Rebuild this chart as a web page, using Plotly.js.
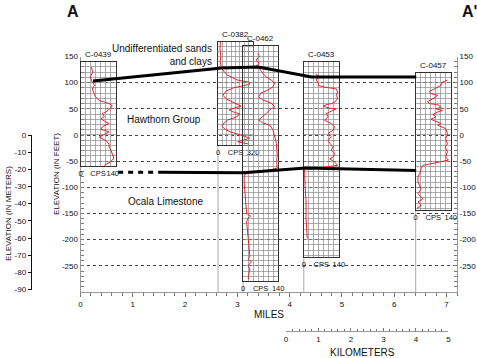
<!DOCTYPE html>
<html><head><meta charset="utf-8">
<script src="https://cdn.plot.ly/plotly-3.0.1.min.js"></script>
<style>html,body{margin:0;padding:0;background:#fff}#chart{width:477px;height:358px}</style>
</head><body><div id="chart"></div>
<script>
const FONT = '"Liberation Sans Narrow", "Arial Narrow", "Liberation Sans", Arial, sans-serif';

// ---- axis ticks ----
const mileTicks = [0,1,2,3,4,5,6,7];
const kmTicks = [0,1,2,3,4,5];
const feetTicks = [150,100,50,0,-50,-100,-150,-200,-250];
const meterTicks = [0,-10,-20,-30,-40,-50,-60,-70,-80,-90];

// ---- wells ----
const wellNames = ['C-0439','C-0382','C-0462','C-0453','C-0457'];
const wellMiles = [0.0, 2.63, 3.11, 4.27, 6.41];
const wellTopFt = [139, 178, 170, 139, 118];
const wellBottomFt = [-60, -20, -279, -233, -143];
const wellCpsMax = [140, 320, 140, 140, 140];
const wellGridCps = [20, 40, 20, 20, 20];

// ---- gamma logs (elevation ft, counts per second) ----
const elev0439 = [130,120,111,101,95,88,82,73,66,60,56,51,44,41,35,31,25,22,16,11,6,0,-4,-9,-13,-18,-23,-27,-32,-39,-44,-48,-53,-58];
const cps0439  = [43,49,39,47,56,47,52,60,75,114,127,120,101,88,95,82,101,114,88,82,114,88,75,95,107,114,114,120,124,127,133,127,114,95];
const elev0382 = [178,165,150,140,128,115,105,101,97,93,90,84,76,69,63,59,55,52,48,44,40,34,29,23,17,11,6,2,-2,-6,-10,-13,-17];
const cps0382  = [22,18,25,20,30,80,175,285,290,210,140,75,45,75,130,180,210,155,100,140,200,165,90,55,35,65,110,175,240,290,230,180,275];
const elev0462 = [156,150,143,137,130,127,118,111,105,99,92,86,80,73,67,61,54,48,41,35,29,23,19,10,-3,-16,-38,-52,-63,-68,-73,-76,-90,-105,-130,-150,-155,-160,-166,-185,-205,-225,-231,-238,-242,-249,-258,-268,-276];
const cps0462  = [58,65,51,65,48,65,78,92,112,126,119,99,71,62,78,112,126,106,92,78,62,78,106,119,126,133,136,134,136,100,20,5,4,7,11,14,30,18,14,18,21,24,27,21,34,21,27,21,21];
const elev0453 = [117,111,105,98,95,92,90,88,82,76,70,63,60,58,55,51,50,45,41,35,28,22,15,9,3,-3,-10,-16,-22,-29,-35,-42,-46,-52,-58,-62,-64,-96,-128,-160,-185,-198];
const cps0453  = [50,57,50,59,57,77,104,130,135,130,135,124,110,90,77,104,130,110,90,97,83,110,124,117,97,110,97,104,117,110,124,117,104,124,135,70,3,5,9,9,14,14];
const elev0457 = [105,101,95,88,83,79,76,69,64,60,58,53,50,47,44,39,35,30,27,22,19,15,12,2,-7,-17,-23,-32,-42,-48,-51,-55,-58,-64,-74,-80,-90,-103,-112,-122,-128,-135,-140];
const cps0457  = [127,107,101,75,55,61,88,68,48,55,88,101,81,107,88,68,81,61,75,101,88,107,120,127,120,127,118,127,120,131,101,55,29,22,16,9,9,22,9,29,9,22,5];

// ---- formation boundaries ----
const hawthornTopMiles = [0.24, 2.70, 3.40, 4.42, 6.42];
const hawthornTopFt    = [103, 128, 130, 111, 111];
const ocalaInferredMiles = [0.72, 1.52];
const ocalaInferredFt    = [-71, -71];
const ocalaTopMiles = [1.52, 3.11, 4.30, 6.42];
const ocalaTopFt    = [-71, -72, -63, -68];

// ---- unit labels ----
const unitNames = ['Undifferentiated sands<br>and clays', 'Hawthorn Group', 'Ocala Limestone'];
const unitMiles = [2.553, 1.60, 1.625];
const unitFt    = [153, 28.7, -128];

// ================= layout geometry =================
const W = 477, H = 358;
const plotL = 80.5, plotR = 457, plotT = 56.5, plotB = 292;
const mileRange = [0, 7.2];
const ftRange = [-300, 150];
const FT_PER_M = 3.28084, MI_PER_KM = 0.621371;
const kmStartMi = 3.93;
const logWidthMi = 0.67;
const cpsLabelFrac = [[0, 0.5, 0.92], [0, 0.5, 1], [0, 0.5, 1], [0, 0.5, 1], [0, 0.5, 1]];
const RED = '#e5262d';

const mi2px = mi => plotL + (mi - mileRange[0]) / (mileRange[1] - mileRange[0]) * (plotR - plotL);
const ft2py = ft => plotB - (ft - ftRange[0]) / (ftRange[1] - ftRange[0]) * (plotB - plotT);
const px = x => x / W;
const py = y => 1 - y / H;

const logsElev = [elev0439, elev0382, elev0462, elev0453, elev0457];
const logsCps  = [cps0439, cps0382, cps0462, cps0453, cps0457];

const tf = {family: FONT, size: 8, color: '#111'};

const layout = {
  width: W, height: H, autosize: false,
  margin: {l: 0, r: 0, t: 0, b: 0},
  paper_bgcolor: '#fff', plot_bgcolor: 'rgba(0,0,0,0)',
  showlegend: false,
  font: {family: FONT, color: '#111'},
  xaxis: {
    domain: [px(plotL), px(plotR)], range: mileRange, anchor: 'y',
    tickmode: 'array', tickvals: mileTicks, ticktext: mileTicks.map(String),
    ticks: 'outside', ticklen: 4, tickcolor: '#777', tickfont: tf, tickangle: 0,
    showline: true, linecolor: '#999', linewidth: 1,
    showgrid: false, zeroline: false, fixedrange: true,
    minor: {tickmode: 'linear', tick0: 0, dtick: 0.2, ticks: 'outside', ticklen: 3, tickcolor: '#777', showgrid: false}
  },
  yaxis: {
    domain: [py(plotB), py(plotT)], range: ftRange, anchor: 'x',
    tickmode: 'array', tickvals: feetTicks, ticktext: feetTicks.map(String),
    ticks: 'inside', ticklen: 3, tickcolor: '#777', tickfont: tf,
    showline: true, linecolor: '#999', linewidth: 1,
    showgrid: true, gridcolor: '#444', griddash: 'dot', gridwidth: 1,
    zeroline: false, fixedrange: true,
    minor: {tickmode: 'linear', tick0: 0, dtick: 10, ticks: 'inside', ticklen: 3, tickcolor: '#777', showgrid: false}
  },
  yaxis2: {
    overlaying: 'y', side: 'right', anchor: 'x', range: ftRange,
    tickmode: 'array', tickvals: feetTicks, ticktext: feetTicks.map(String),
    ticks: 'inside', ticklen: 3, tickcolor: '#777', tickfont: tf,
    showline: true, linecolor: '#999', linewidth: 1,
    showgrid: false, zeroline: false, fixedrange: true,
    minor: {tickmode: 'linear', tick0: 0, dtick: 10, ticks: 'inside', ticklen: 3, tickcolor: '#777', showgrid: false}
  },
  xaxis2: {
    anchor: 'free', position: py(331),
    domain: [px(mi2px(kmStartMi)), px(mi2px(kmStartMi + 5 * MI_PER_KM))], range: [0, 5],
    tickmode: 'array', tickvals: kmTicks, ticktext: kmTicks.map(String),
    ticks: 'inside', ticklen: 3, tickcolor: '#777', tickfont: tf, tickangle: 0,
    showline: true, linecolor: '#999', linewidth: 1,
    showgrid: false, zeroline: false, fixedrange: true,
    minor: {tickmode: 'linear', tick0: 0, dtick: 0.2, ticks: 'inside', ticklen: 2, tickcolor: '#777', showgrid: false}
  },
  yaxis3: {
    anchor: 'free', position: px(30.7), side: 'left',
    domain: [py(ft2py(-90 * FT_PER_M)), py(ft2py(0))], range: [-90, 0],
    tickmode: 'array', tickvals: meterTicks, ticktext: meterTicks.map(String),
    ticks: 'outside', ticklen: 3, tickcolor: '#111', tickfont: tf,
    showline: true, linecolor: '#111', linewidth: 1.5,
    showgrid: false, zeroline: false, fixedrange: true
  },
  shapes: [],
  annotations: []
};

const data = [
  {type: 'scatter', x: [], y: [], xaxis: 'x', yaxis: 'y2', hoverinfo: 'skip'},
  {type: 'scatter', x: [], y: [], xaxis: 'x2', yaxis: 'y3', hoverinfo: 'skip'}
];

// wells as small subplots
wellNames.forEach((name, i) => {
  const xa = 'xaxis' + (3 + i), ya = 'yaxis' + (4 + i);
  const xid = 'x' + (3 + i), yid = 'y' + (4 + i);
  const left = mi2px(wellMiles[i]), right = mi2px(wellMiles[i] + logWidthMi);
  const top = ft2py(wellTopFt[i]), bot = ft2py(wellBottomFt[i]);
  const m = wellCpsMax[i];
  layout[xa] = {
    domain: [px(left), px(right)], range: [0, m], anchor: yid,
    tickmode: 'array', tickvals: cpsLabelFrac[i].map(f => f * m), ticktext: ['0', 'CPS', String(m)],
    ticks: '', tickangle: 0, tickfont: {family: FONT, size: 7.5, color: '#111'},
    showgrid: false, zeroline: false, fixedrange: true,
    showline: true, mirror: true, linecolor: '#333', linewidth: 1,
    minor: {tickmode: 'linear', tick0: 0, dtick: wellGridCps[i], showgrid: true, gridcolor: '#8a8a8a', gridwidth: 0.7, ticks: ''}
  };
  layout[ya] = {
    domain: [py(bot), py(top)], range: [wellBottomFt[i], wellTopFt[i]], anchor: xid,
    tickmode: 'linear', tick0: 0, dtick: 10, ticks: '', showticklabels: false,
    showgrid: true, gridcolor: '#8a8a8a', gridwidth: 0.7, zeroline: false, fixedrange: true,
    showline: true, mirror: true, linecolor: '#333', linewidth: 1
  };
  data.push({
    type: 'scatter', mode: 'lines', x: logsCps[i], y: logsElev[i],
    xaxis: xid, yaxis: yid, line: {color: RED, width: 1}, hoverinfo: 'skip'
  });
  layout.annotations.push({
    xref: 'paper', yref: 'paper', x: px((left + right) / 2), y: py(top - 1),
    xanchor: 'center', yanchor: 'bottom', text: name, showarrow: false,
    font: {family: FONT, size: 8, color: '#111'}
  });
  if (i > 0) {
    layout.shapes.push({
      type: 'line', xref: 'x', yref: 'y', x0: wellMiles[i], x1: wellMiles[i],
      y0: wellBottomFt[i], y1: ftRange[0], line: {color: '#aaa', width: 1}, layer: 'below'
    });
  }
});

// formation boundaries
const pathOf = (xs, ys) => xs.map((x, k) => (k ? 'L' : 'M') + x + ',' + ys[k]).join(' ');
layout.shapes.push({type: 'path', xref: 'x', yref: 'y', path: pathOf(hawthornTopMiles, hawthornTopFt),
  line: {color: '#000', width: 3}, layer: 'above'});
layout.shapes.push({type: 'path', xref: 'x', yref: 'y', path: pathOf(ocalaTopMiles, ocalaTopFt),
  line: {color: '#000', width: 3}, layer: 'above'});
layout.shapes.push({type: 'path', xref: 'x', yref: 'y', path: pathOf(ocalaInferredMiles, ocalaInferredFt),
  line: {color: '#000', width: 3, dash: '5px,5px'}, layer: 'above'});

// unit labels (placed in paper space through the axis scales so that the label above 150 ft is kept)
unitNames.forEach((t, i) => {
  layout.annotations.push({
    xref: 'paper', yref: 'paper', x: px(mi2px(unitMiles[i])), y: py(ft2py(unitFt[i])), text: t, showarrow: false,
    xanchor: i === 0 ? 'right' : 'center', yanchor: 'middle', align: i === 0 ? 'right' : 'center',
    font: {family: FONT, size: 10, color: '#111'}
  });
});

// titles and section letters
const ann = (x, y, text, size, extra) => layout.annotations.push(Object.assign({
  xref: 'paper', yref: 'paper', x: px(x), y: py(y), text: text, showarrow: false,
  xanchor: 'center', yanchor: 'middle', font: {family: FONT, size: size, color: '#111'}
}, extra || {}));
ann(73, 12, '<b>A</b>', 16, {font: {family: '"Liberation Sans", Arial, sans-serif', size: 16, color: '#111'}});
ann(469, 12, "<b>A'</b>", 16, {font: {family: '"Liberation Sans", Arial, sans-serif', size: 16, color: '#111'}});
ann(269, 314, 'MILES', 10);
ann(362.5, 352, 'KILOMETERS', 10);
ann(56, 174, 'ELEVATION (IN FEET)', 8, {textangle: -90});
ann(8, 214, 'ELEVATION (IN METERS)', 8, {textangle: -90});

Plotly.newPlot('chart', data, layout, {staticPlot: true, displayModeBar: false});
</script>
</body></html>
